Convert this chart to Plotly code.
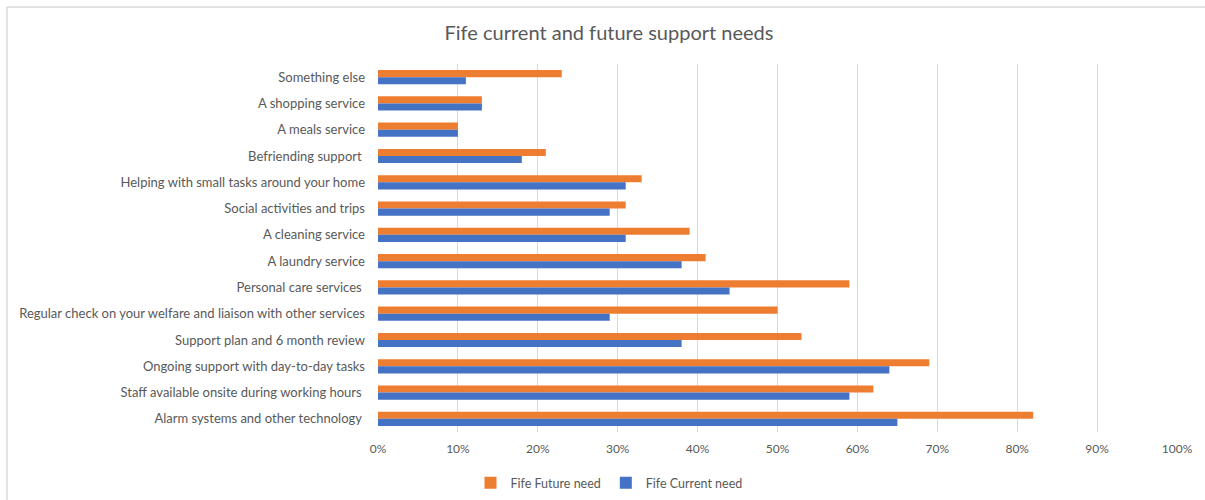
import plotly.graph_objects as go

# Support categories, listed top to bottom
categories = [
    "Something else",
    "A shopping service",
    "A meals service",
    "Befriending support ",
    "Helping with small tasks around your home",
    "Social activities and trips",
    "A cleaning service",
    "A laundry service",
    "Personal care services ",
    "Regular check on your welfare and liaison with other services",
    "Support plan and 6 month review",
    "Ongoing support with day-to-day tasks",
    "Staff available onsite during working hours ",
    "Alarm systems and other technology ",
]

# Share of respondents (fractions)
future_need = [0.23, 0.13, 0.10, 0.21, 0.33, 0.31, 0.39, 0.41, 0.59, 0.50, 0.53, 0.69, 0.62, 0.82]
current_need = [0.11, 0.13, 0.10, 0.18, 0.31, 0.29, 0.31, 0.38, 0.44, 0.29, 0.38, 0.64, 0.59, 0.65]

x_ticks = [i / 10 for i in range(11)]
x_tick_labels = [f"{i * 10}%" for i in range(11)]

ORANGE = "#ED7D31"
BLUE = "#4472C4"
TEXT = "#595959"
GRID = "#D9D9D9"
FONT = "Lato"

fig = go.Figure()
fig.add_trace(go.Bar(
    y=categories, x=future_need, orientation="h",
    name="Fife Future need", marker=dict(color=ORANGE, line=dict(width=0)),
))
fig.add_trace(go.Bar(
    y=categories, x=current_need, orientation="h",
    name="Fife Current need", marker=dict(color=BLUE, line=dict(width=0)),
))

W, H = 1205, 500
L, R, T, B = 378, 28, 64, 65
pw, ph = W - L - R, H - T - B

# Light chart frame on the left and top edges
fx0 = (7 - L) / pw
fy1 = 1 + (T - 6.5) / ph
fig.add_shape(type="line", xref="paper", yref="paper",
              x0=fx0, x1=(W + 10 - L) / pw, y0=fy1, y1=fy1,
              line=dict(color=GRID, width=1.5))
fig.add_shape(type="line", xref="paper", yref="paper",
              x0=fx0, x1=fx0, y0=fy1, y1=-(B + 10) / ph,
              line=dict(color=GRID, width=1.5))

fig.update_layout(
    width=W, height=H,
    margin=dict(l=L, r=R, t=T, b=B),
    paper_bgcolor="white", plot_bgcolor="white",
    barmode="group", bargap=0.46, bargroupgap=0,
    font=dict(family=FONT, color=TEXT, size=12),
    title=dict(
        text="Fife current and future support needs",
        x=(609) / W, xanchor="center", xref="container",
        y=1 - 33 / H, yanchor="middle", yref="container",
        font=dict(family=FONT, size=20, color=TEXT),
    ),
    xaxis=dict(
        range=[0, 1.0], tickvals=x_ticks, ticktext=x_tick_labels,
        showgrid=True, gridcolor=GRID, gridwidth=1,
        zeroline=False, showline=False, ticks="",
        tickfont=dict(family=FONT, size=12, color=TEXT),
        ticklabelstandoff=8, fixedrange=True,
    ),
    yaxis=dict(
        autorange="reversed", type="category",
        showgrid=False, zeroline=False, showline=False, ticks="",
        tickfont=dict(family=FONT, size=13, color=TEXT),
        ticklabelstandoff=12, fixedrange=True,
    ),
    legend=dict(
        orientation="h", xref="container", x=609 / W, xanchor="center",
        yref="container", y=1 - 483 / H, yanchor="middle",
        font=dict(family=FONT, size=12.5, color=TEXT),
        traceorder="normal", itemwidth=30,
    ),
    showlegend=True,
)

fig.write_html("out.html")
